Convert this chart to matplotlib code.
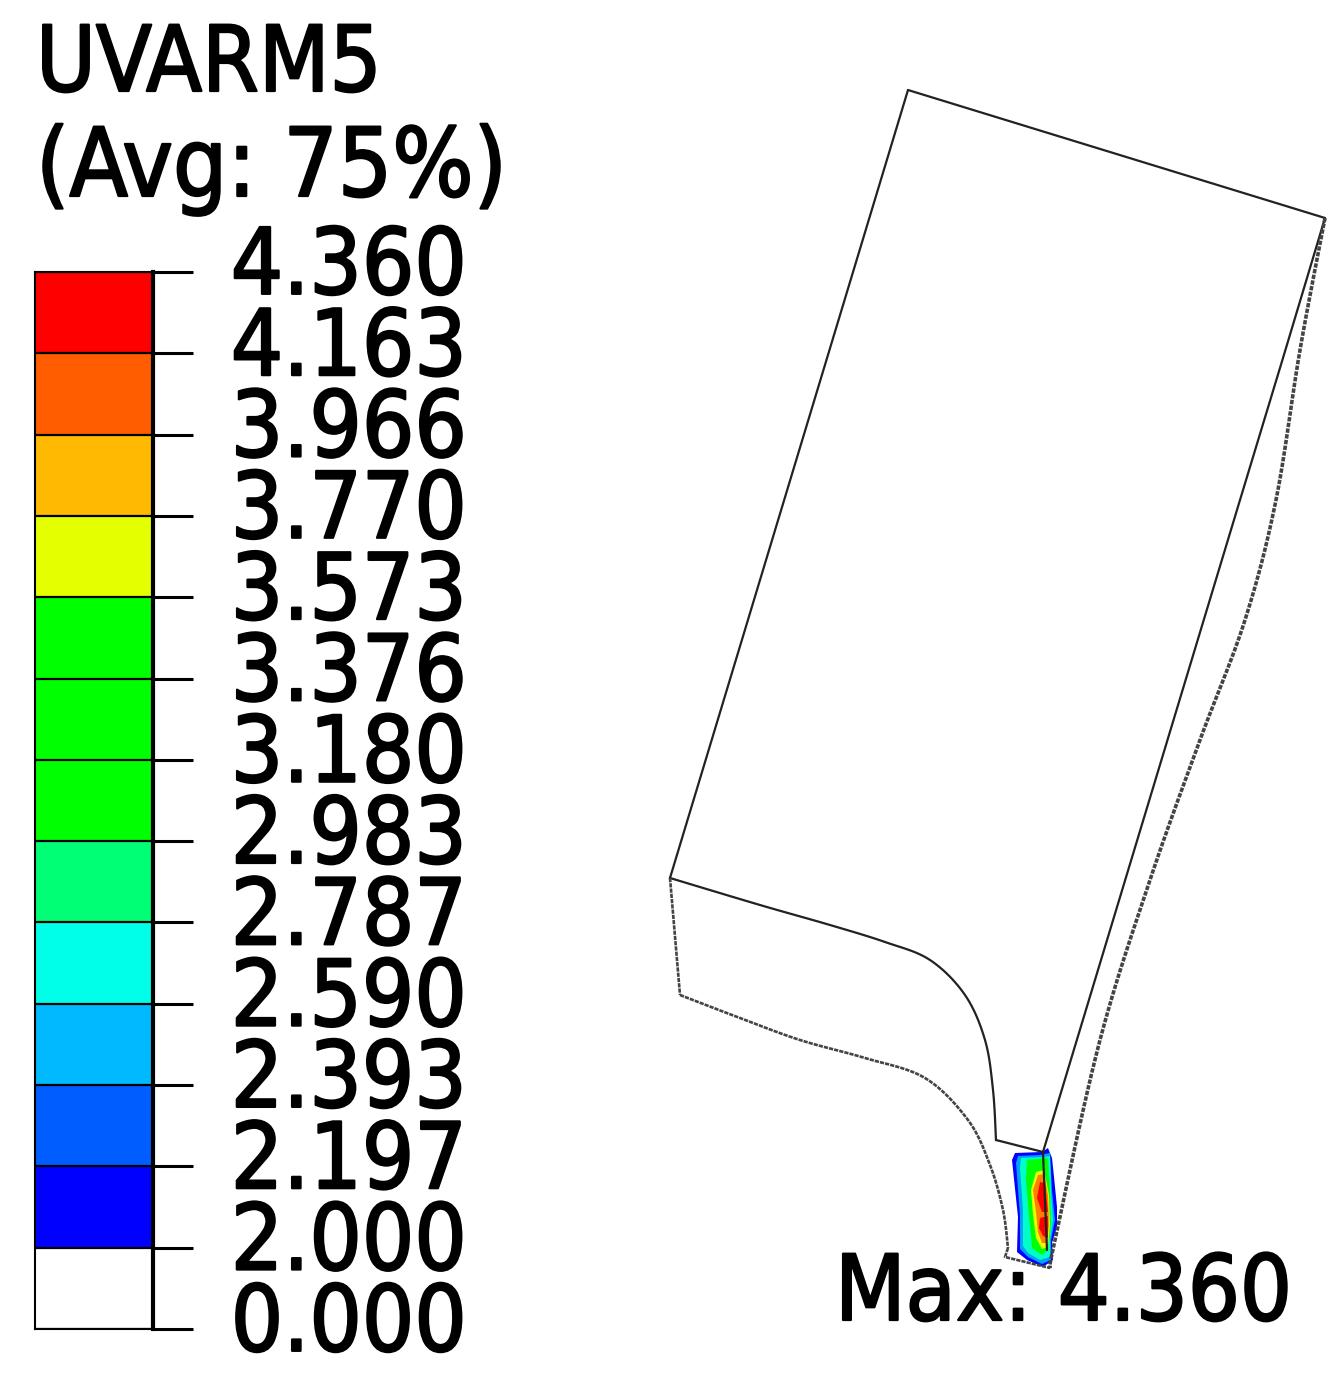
import matplotlib
matplotlib.use("Agg")
import matplotlib.pyplot as plt
import matplotlib.patheffects as pe
from matplotlib.colors import ListedColormap
from matplotlib.patches import Polygon
import numpy as np

# ---- data ----
title_lines = ["UVARM5", "(Avg: 75%)"]
level_labels = ["0.000", "2.000", "2.197", "2.393", "2.590", "2.787", "2.983",
                "3.180", "3.376", "3.573", "3.770", "3.966", "4.163", "4.360"]
level_colors = ["#ffffff", "#0000ff", "#005dff", "#00b9ff", "#00ffe8", "#00ff74",
                "#00ff00", "#00ff00", "#00ff00", "#e3ff00", "#ffb900", "#ff5d00", "#ff0000"]
max_label = "Max: 4.360"

edge_left = [(908, 90), (670, 878)]
edge_top = [(908, 90), (1325, 218)]
edge_inner = [(1325, 218), (1283, 358), (1240, 500), (1043, 1152)]
edge_upper_curve = [(670, 878), (760, 905), (830, 925), (885, 942), (930, 960), (965, 995), (985, 1040), (993, 1090), (996, 1140)]
edge_notch = [(996, 1140), (1043, 1152)]
edge_side = [(670, 878), (680, 995)]
edge_lower_curve = [(680, 995), (740, 1018), (800, 1040), (865, 1058), (925, 1078), (968, 1120), (990, 1165), (1003, 1210), (1008, 1248)]
edge_foot = [(1008, 1248), (1005, 1257), (1050, 1268)]
edge_outer = [(1325, 218), (1300, 350), (1276, 500), (1245, 620), (1200, 740), (1150, 880), (1100, 1040), (1055, 1240), (1050, 1268)]
edge_core = [(1043, 1152), (1047, 1250)]

contour_blue = [(1015, 1153), (1042, 1152), (1048, 1148), (1052, 1158), (1054, 1177), (1057, 1207), (1057, 1227), (1052, 1243), (1053, 1260), (1043, 1267), (1027, 1260), (1017, 1252), (1018, 1217), (1012, 1160)]
contour_sky = [(1018, 1156), (1040, 1155), (1050, 1153), (1052, 1190), (1055, 1220), (1051, 1240), (1051, 1260), (1042, 1264), (1028, 1257), (1020, 1249), (1020, 1215), (1016, 1163)]
contour_cyan = [(1021, 1158), (1044, 1157), (1050, 1156), (1051, 1190), (1053, 1220), (1050, 1240), (1050, 1257), (1040, 1260), (1028, 1253), (1023, 1246), (1023, 1210), (1020, 1168)]
contour_green = [(1027, 1160), (1048, 1158), (1050, 1190), (1051, 1225), (1048, 1250), (1042, 1255), (1032, 1248), (1029, 1215), (1026, 1180)]
contour_yellow = [(1036, 1172), (1044, 1170), (1049, 1195), (1050, 1225), (1048, 1247), (1042, 1249), (1036, 1238), (1033, 1215), (1031, 1190)]
contour_orange = [(1038, 1175), (1044, 1174), (1048, 1195), (1049, 1225), (1047, 1243), (1042, 1243), (1038, 1232), (1036, 1212), (1033, 1190)]
contour_red_a = [(1040, 1182), (1045, 1183), (1048, 1212), (1042, 1212), (1037, 1198)]
contour_red_b = [(1040, 1218), (1048, 1216), (1048, 1238), (1043, 1236), (1039, 1228)]

# ---- layout ----
W, H = 1340, 1383
fig = plt.figure(figsize=(W / 100, H / 100), dpi=100, facecolor="white")
ax = fig.add_axes([0, 0, 1, 1])
ax.set_xlim(0, W)
ax.set_ylim(H, 0)
ax.axis("off")

FONT = dict(family="DejaVu Sans", stretch="condensed", color="black",
            path_effects=[pe.withStroke(linewidth=1.6, foreground="black")])

# ---- legend ----
bar_left, bar_right, bar_top, bar_bottom = 35, 153, 272, 1329
cax = fig.add_axes([bar_left / W, 1 - bar_bottom / H, (bar_right - bar_left) / W, (bar_bottom - bar_top) / H])
n = len(level_colors)
cax.pcolormesh([0, 1], np.arange(n + 1), np.arange(n).reshape(-1, 1),
               cmap=ListedColormap(level_colors), vmin=-0.5, vmax=n - 0.5)
for i in range(n + 1):
    cax.axhline(i, color="black", lw=1.6, zorder=3)
cax.set_xlim(0, 1)
cax.set_ylim(0, n)
cax.set_xticks([])
cax.yaxis.tick_right()
cax.set_yticks(np.arange(n + 1))
cax.set_yticklabels([])
cax.tick_params(axis="y", length=29, width=2.2, color="black")
for s in cax.spines.values():
    s.set_linewidth(1.5)
cax.spines["right"].set_linewidth(3)
for i, lab in enumerate(level_labels):
    cax.annotate(lab, xy=(1, i), xycoords=("axes fraction", "data"),
                 xytext=(56, 3), textcoords="offset points", va="center", ha="left",
                 fontsize=66, annotation_clip=False, **FONT)

# ---- titles ----
ax.text(36, 66, title_lines[0], fontsize=65.5, va="center", ha="left", **FONT)
ax.text(36, 170, title_lines[1], fontsize=68.5, va="center", ha="left", **FONT)
ax.text(835, 1295, max_label, fontsize=65.5, va="center", ha="left", zorder=5, **FONT)

# ---- contour ----
for poly, col in [(contour_blue, "#0000ff"), (contour_sky, "#00a0ff"), (contour_cyan, "#00ffc8"),
                  (contour_green, "#00ff00"), (contour_yellow, "#e3ff00"), (contour_orange, "#ff8000"),
                  (contour_red_a, "#ff0000"), (contour_red_b, "#ff0000")]:
    ax.add_patch(Polygon(poly, closed=True, fc=col, ec="none", zorder=2))

# ---- outlines ----
def smooth(points, steps=12):
    # Catmull-Rom through the read points
    p = np.array(points, float)
    p = np.vstack([p[0], p, p[-1]])
    out = []
    for i in range(1, len(p) - 2):
        for t in np.linspace(0, 1, steps, endpoint=False):
            out.append(0.5 * (2 * p[i] + (p[i + 1] - p[i - 1]) * t
                              + (2 * p[i - 1] - 5 * p[i] + 4 * p[i + 1] - p[i + 2]) * t ** 2
                              + (3 * p[i] - p[i - 1] - 3 * p[i + 1] + p[i + 2]) * t ** 3))
    out.append(p[-2])
    return np.array(out)

for pts in [edge_left, edge_top, edge_inner, edge_notch, edge_core]:
    a = np.array(pts)
    ax.plot(a[:, 0], a[:, 1], color="#222222", lw=1.6, zorder=3, solid_capstyle="round")
for pts in [edge_upper_curve]:
    a = smooth(pts)
    ax.plot(a[:, 0], a[:, 1], color="#222222", lw=1.6, zorder=3)
for pts in [edge_side, edge_foot]:
    a = np.array(pts)
    ax.plot(a[:, 0], a[:, 1], color="#444444", lw=1.9, ls=(0, (1.6, 0.4)), zorder=3)
a = smooth(edge_lower_curve)
ax.plot(a[:, 0], a[:, 1], color="#444444", lw=1.9, ls=(0, (1.6, 0.4)), zorder=3)
a = smooth(edge_outer)
ax.plot(a[:, 0], a[:, 1], color="#444444", lw=2.6, ls=(0, (1.2, 0.4)), zorder=3)

fig.savefig("out.png", dpi=100, facecolor="white")
